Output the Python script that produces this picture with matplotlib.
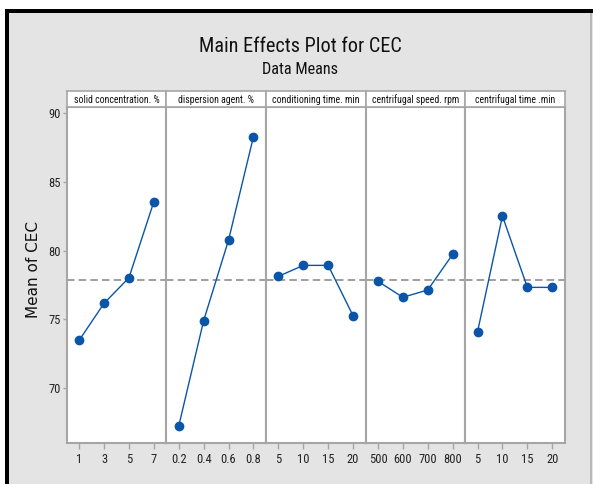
import matplotlib
matplotlib.use("Agg")
import matplotlib.pyplot as plt
from matplotlib import font_manager
from matplotlib.patches import Rectangle

# factor names and their levels
factors = ["solid concentration. %", "dispersion agent. %", "conditioning time. min",
           "centrifugal speed. rpm", "centrifugal time .min"]
levels = [
    ["1", "3", "5", "7"],
    ["0.2", "0.4", "0.6", "0.8"],
    ["5", "10", "15", "20"],
    ["500", "600", "700", "800"],
    ["5", "10", "15", "20"],
]
# mean CEC at each level
means = [
    [73.47, 76.16, 78.02, 83.55],
    [67.24, 74.90, 80.76, 88.28],
    [78.12, 78.92, 78.92, 75.26],
    [77.76, 76.60, 77.13, 79.72],
    [74.10, 82.51, 77.32, 77.32],
]
grand_mean = 77.85
yticks = [70, 75, 80, 85, 90]


def first_font(names):
    for n in names:
        try:
            font_manager.findfont(font_manager.FontProperties(family=n), fallback_to_default=False)
            return n
        except Exception:
            pass
    return "DejaVu Sans"


narrow = first_font(["Liberation Sans Narrow", "DejaVu Sans Condensed", "Roboto Condensed",
                     "Open Sans Condensed", "Liberation Sans", "Roboto"])

W, H = 593, 484
blue = "#0a55a8"
frame = "#a6a6a6"
ink = "#111111"

fig = plt.figure(figsize=(W / 100, H / 100), dpi=100, facecolor="white")
renderer = fig.canvas.get_renderer()


def fit_width(t, target):
    # shrink/grow a text so its rendered width is target pixels
    w = t.get_window_extent(renderer).width
    t.set_fontsize(t.get_fontsize() * target / w)


def px(x0, y0, x1, y1):
    # pixel box (top-left origin) -> figure rect
    return [x0 / W, 1 - y1 / H, (x1 - x0) / W, (y1 - y0) / H]


# grey panel background with black border on top/left
bg = fig.add_axes([0, 0, 1, 1], zorder=-10)
bg.set_xlim(0, W)
bg.set_ylim(H, 0)
bg.axis("off")
bg.add_patch(Rectangle((7, 11), W - 7, H - 11, color="#e4e4e4", lw=0))
bg.add_patch(Rectangle((5, 9), W - 5, 4, color="black", lw=0))
bg.add_patch(Rectangle((5, 9), 4, H - 9, color="black", lw=0))
bg.add_patch(Rectangle((590, 13), 1.5, H - 13, color="#b8b8b8", lw=0))

title = fig.text(300 / W, 1 - 46 / H, "Main Effects Plot for CEC", ha="center", va="center",
                 fontsize=15, family=narrow, color=ink)
fit_width(title, 202)
sub = fig.text(300 / W, 1 - 70 / H, "Data Means", ha="center", va="center",
               fontsize=11, family=narrow, color=ink)
fit_width(sub, 76)
fig.text(33 / W, 1 - 270 / H, "Mean of CEC", rotation=90, ha="center", va="center",
         fontsize=11, family="DejaVu Sans", color=ink)

strip_widths = [86, 77, 88, 88, 81]
left, right = 66.7, 564.7
pw = (right - left) / len(factors)
for i, (name, lv, m) in enumerate(zip(factors, levels, means)):
    x0 = left + i * pw
    ax = fig.add_axes(px(x0, 107, x0 + pw, 443))
    ax.set_facecolor("white")
    pos = list(range(1, len(lv) + 1))
    ax.axhline(grand_mean, color="#8f8f8f", lw=1.2, ls=(0, (4.5, 2.5)), zorder=1)
    ax.plot(pos, m, color=blue, lw=1.0, marker="o", ms=6, mfc=blue, mec=blue, zorder=3)
    ax.set_xlim(0.5, len(lv) + 0.5)
    ax.set_ylim(66.0, 90.44)
    ax.set_xticks(pos)
    ax.set_xticklabels(lv, family=narrow, fontsize=9, color="#222222")
    ax.tick_params(axis="x", length=4, width=1, color=frame, pad=3)
    if i == 0:
        ax.set_yticks(yticks)
        ax.set_yticklabels([str(v) for v in yticks], family=narrow, fontsize=9, color="#222222")
        ax.tick_params(axis="y", length=3, width=1, color=frame, pad=1.5)
    else:
        ax.set_yticks([])
    for s in ax.spines.values():
        s.set_color(frame)
        s.set_linewidth(1.5)

    # factor strip on top
    st = fig.add_axes(px(x0, 91, x0 + pw, 107))
    st.set_facecolor("white")
    st.set_xticks([])
    st.set_yticks([])
    for s in st.spines.values():
        s.set_color(frame)
        s.set_linewidth(1.2)
    lab = st.text(0.5, 0.45, name, ha="center", va="center", transform=st.transAxes,
                  family=narrow, fontsize=7, color=ink)
    fit_width(lab, strip_widths[i])

fig.savefig("out.png", dpi=100, facecolor="white")
